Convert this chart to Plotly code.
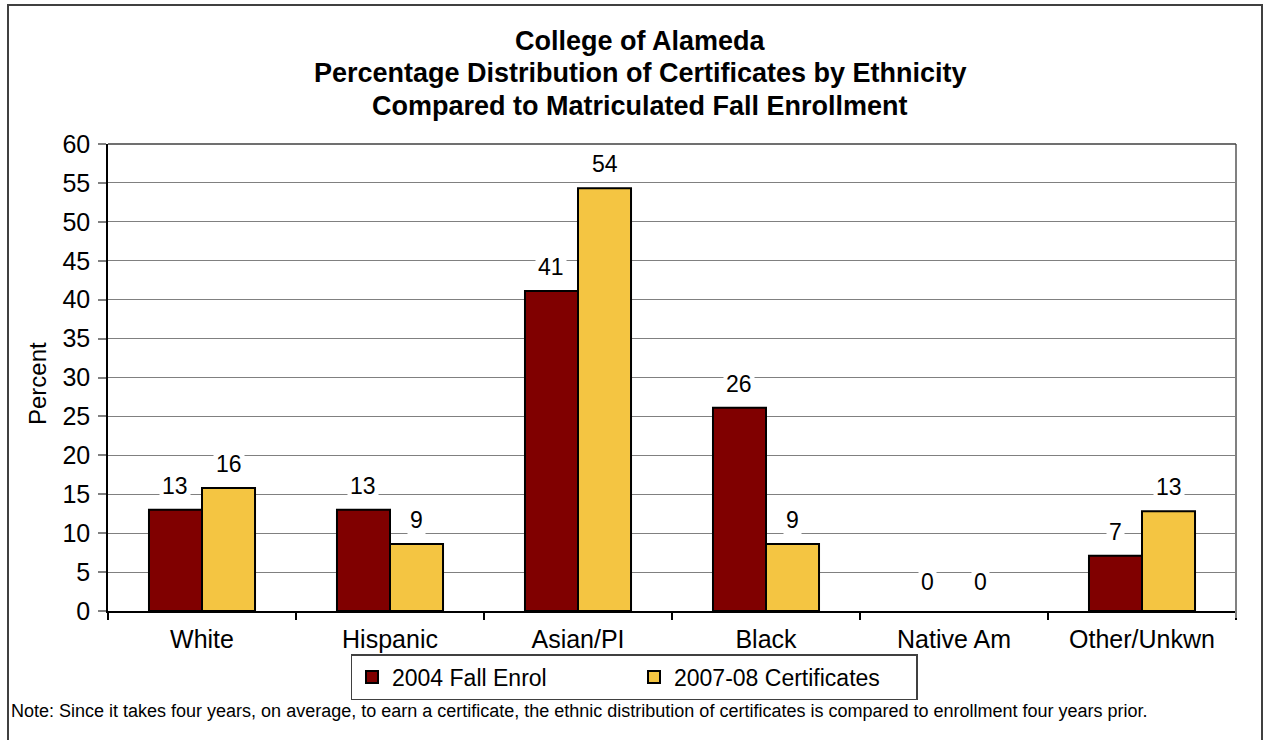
import plotly.graph_objects as go

categories = ["White", "Hispanic", "Asian/PI", "Black", "Native Am", "Other/Unkwn"]
enrol_2004 = [13.0, 13.0, 41.1, 26.1, 0.0, 7.1]
cert_2007 = [15.8, 8.6, 54.3, 8.6, 0.0, 12.8]
series_names = ["2004 Fall Enrol", "2007-08 Certificates"]
title_lines = ["College of Alameda",
               "Percentage Distribution of Certificates by Ethnicity",
               "Compared to Matriculated Fall Enrollment"]
note_text = ("Note: Since it takes four years, on average, to earn a certificate, the ethnic "
             "distribution of certificates is compared to enrollment four years prior.")

W, H = 1263, 740
L, R, T, B = 108, 27, 144, 129
PW, PH = W - L - R, H - T - B

def px(x):
    return (x - L) / PW

def py(y):
    return (H - B - y) / PH

FONT = "Liberation Sans, Arial, sans-serif"
RED = "#800000"
GOLD = "#F4C542"

fig = go.Figure()
for vals, name, col in ((enrol_2004, series_names[0], RED), (cert_2007, series_names[1], GOLD)):
    fig.add_trace(go.Bar(x=categories, y=vals, name=name,
                         marker=dict(color=col,
                                     line=dict(color="black",
                                               width=[2 if v > 0 else 0 for v in vals]))))

bargap = 0.436
half = (1 - bargap) / 4
annotations = []
for i, cat in enumerate(categories):
    for vals, off in ((enrol_2004, -half), (cert_2007, half)):
        v = vals[i]
        annotations.append(dict(
            x=i + off, y=v, xref="x", yref="y", text=str(int(round(v))),
            showarrow=False, yanchor="bottom", yshift=8 if v > 0 else 13,
            bgcolor="white", borderpad=2,
            font=dict(family=FONT, size=23, color="black")))

for txt, yy in zip(title_lines, (41, 73, 106)):
    annotations.append(dict(x=px(640), y=py(yy), xref="paper", yref="paper",
                            text="<b>%s</b>" % txt, showarrow=False,
                            xanchor="center", yanchor="middle",
                            font=dict(family=FONT, size=27, color="black")))

annotations.append(dict(x=px(37), y=py(384), xref="paper", yref="paper",
                        text="Percent", textangle=-90, showarrow=False,
                        xanchor="center", yanchor="middle",
                        font=dict(family=FONT, size=24, color="black")))
annotations.append(dict(x=px(9), y=py(711), xref="paper", yref="paper",
                        text=note_text, showarrow=False,
                        xanchor="left", yanchor="middle",
                        font=dict(family=FONT, size=18, color="black")))

shapes = [
    dict(type="rect", xref="paper", yref="paper",
         x0=px(8), x1=px(1262), y0=py(760), y1=py(5),
         line=dict(color="#404040", width=2), fillcolor="rgba(0,0,0,0)", layer="below"),
    dict(type="line", xref="paper", yref="paper",
         x0=1, x1=1, y0=py(618), y1=1,
         line=dict(color="#808080", width=2)),
    dict(type="line", xref="paper", yref="paper",
         x0=0, x1=1, y0=1, y1=1,
         line=dict(color="#404040", width=1.5)),
]

fig.update_layout(
    width=W, height=H,
    margin=dict(l=L, r=R, t=T, b=B, pad=0),
    paper_bgcolor="white", plot_bgcolor="white",
    barmode="group", bargap=bargap, bargroupgap=0,
    font=dict(family=FONT, size=25, color="black"),
    showlegend=True,
    legend=dict(orientation="h", x=px(634), xanchor="center",
                y=py(654), yanchor="top",
                bgcolor="white", bordercolor="#404040", borderwidth=1.5,
                font=dict(family=FONT, size=23, color="black"),
                itemwidth=30, tracegroupgap=0,
                entrywidth=237, entrywidthmode="pixels"),
    annotations=annotations,
    shapes=shapes,
    xaxis=dict(type="category", tickson="boundaries", ticks="outside",
               ticklen=7, tickcolor="black", tickwidth=1.5,
               showline=True, linecolor="black", linewidth=1.5,
               showgrid=False, tickfont=dict(family=FONT, size=25),
               ticklabelstandoff=5,
               range=[-0.5, 5.5]),
    yaxis=dict(range=[0, 60], dtick=5, tick0=0, ticks="outside", ticklen=8,
               tickcolor="#808080", tickwidth=1.5,
               showline=True, linecolor="black", linewidth=1.5,
               showgrid=True, gridcolor="#808080", gridwidth=1,
               zeroline=False, tickfont=dict(family=FONT, size=25),
               ticklabelstandoff=3),
)

fig.write_html("out.html", config={"displayModeBar": False},
               post_script="document.body.style.margin='0';")
